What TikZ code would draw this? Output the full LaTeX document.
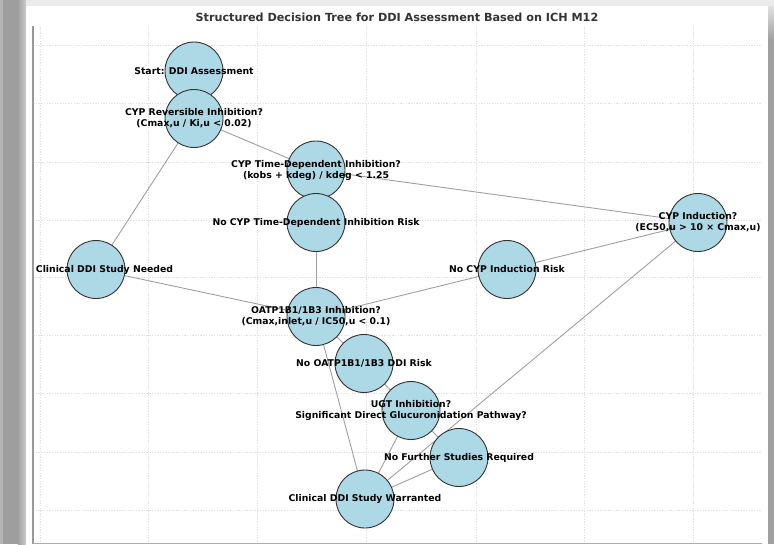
\documentclass[tikz,border=0pt]{standalone}
\usepackage{fontspec}
\setmainfont{DejaVu Sans}
\definecolor{nodefill}{HTML}{ADD8E6}
\definecolor{nodeline}{HTML}{333333}
\definecolor{edgec}{HTML}{A0A0A0}
\definecolor{gridc}{HTML}{E2E2E2}
\definecolor{axisc}{HTML}{999999}
\definecolor{titlec}{HTML}{333333}
\pgfdeclarelayer{bg}
\pgfdeclarelayer{edges}
\pgfsetlayers{bg,edges,main}
\begin{document}
\begin{tikzpicture}[x=1pt,y=-1pt,
  nd/.style={circle,draw=nodeline,fill=nodefill,line width=0.9pt,minimum size=58pt,inner sep=0pt},
  lbl/.style={font=\fontsize{9.3}{11}\selectfont\bfseries,align=center,text=black,inner sep=0pt},
  edge/.style={draw=edgec,line width=0.9pt},
  gridline/.style={draw=gridc,line width=0.7pt,dash pattern=on 1.5pt off 1.2pt}]
\useasboundingbox (0,0) rectangle (774,544);
\begin{pgfonlayer}{bg}
  \fill[white] (0,0) rectangle (774,544);
  \fill[color={rgb,255:red,158;green,158;blue,158}] (0,0) rectangle (26,544);
  \fill[color={rgb,255:red,180;green,180;blue,180}] (0,0) rectangle (3,544);
  \shade[left color={rgb,255:red,160;green,160;blue,160}, right color={rgb,255:red,205;green,205;blue,205}] (18,0) rectangle (26,544);
  \fill[color={rgb,255:red,235;green,235;blue,235}] (26,0) rectangle (774,6);
  \fill[color={rgb,255:red,160;green,160;blue,160}] (768,40) rectangle (774,544);
  \shade[top color={rgb,255:red,225;green,225;blue,225}, bottom color={rgb,255:red,160;green,160;blue,160}] (768,6) rectangle (774,40);
  \foreach \gx in {40,148,257,366,476,584,693}
    \draw[gridline] (\gx,27) -- (\gx,543);
  \foreach \gy in {45,103,162,220,277,335,393,452,510}
    \draw[gridline] (33,\gy) -- (762,\gy);
  \draw[axisc,line width=1.8pt] (32.8,26) -- (32.8,544);
  \draw[axisc!80,line width=0.8pt] (33,543.5) -- (762,543.5);
\end{pgfonlayer}
\node (title) at (397,17) {\fontsize{11.2}{13}\selectfont\bfseries\color{titlec}Structured Decision Tree for DDI Assessment Based on ICH M12};
% circles
\node[nd] (start) at (194,71) {};
\node[nd] (rev) at (194,118.5) {};
\node[nd] (tdi) at (316,170) {};
\node[nd] (notdi) at (316,222.5) {};
\node[nd] (needed) at (96,269.5) {};
\node[nd] (ind) at (698,222.5) {};
\node[nd] (noind) at (507,269.5) {};
\node[nd] (oatp) at (316,316.5) {};
\node[nd] (nooatp) at (364,363.5) {};
\node[nd] (ugt) at (411,410.5) {};
\node[nd] (nofurther) at (459,457.5) {};
\node[nd] (warr) at (365,499) {};
% edges
\begin{pgfonlayer}{edges}
  \draw[edge] (start.center) -- (rev.center);
  \draw[edge] (rev.center) -- (tdi.center);
  \draw[edge] (rev.center) -- (needed.center);
  \draw[edge] (tdi.center) -- (notdi.center);
  \draw[edge] (tdi.center) -- (ind.center);
  \draw[edge] (notdi.center) -- (oatp.center);
  \draw[edge] (needed.center) -- (oatp.center);
  \draw[edge] (ind.center) -- (noind.center);
  \draw[edge] (ind.center) -- (warr.center);
  \draw[edge] (noind.center) -- (oatp.center);
  \draw[edge] (oatp.center) -- (nooatp.center);
  \draw[edge] (oatp.center) -- (warr.center);
  \draw[edge] (nooatp.center) -- (ugt.center);
  \draw[edge] (ugt.center) -- (nofurther.center);
  \draw[edge] (ugt.center) -- (warr.center);
  \draw[edge] (nofurther.center) -- (warr.center);
\end{pgfonlayer}
% labels
\node[lbl] (tstart) at (start.center) {Start: DDI Assessment};
\node[lbl] (trev) at (rev.center) {CYP Reversible Inhibition?\\(Cmax,u / Ki,u < 0.02)};
\node[lbl] (ttdi) at (tdi.center) {CYP Time-Dependent Inhibition?\\(kobs + kdeg) / kdeg < 1.25};
\node[lbl] (tnotdi) at (notdi.center) {No CYP Time-Dependent Inhibition Risk};
\node[lbl] (tneeded) at ([xshift=8.5pt]needed.center) {Clinical DDI Study Needed};
\node[lbl] (tind) at (ind.center) {CYP Induction?\\(EC50,u > 10 × Cmax,u)};
\node[lbl] (tnoind) at (noind.center) {No CYP Induction Risk};
\node[lbl] (toatp) at (oatp.center) {OATP1B1/1B3 Inhibition?\\(Cmax,inlet,u / IC50,u < 0.1)};
\node[lbl] (tnooatp) at (nooatp.center) {No OATP1B1/1B3 DDI Risk};
\node[lbl] (tugt) at (ugt.center) {UGT Inhibition?\\Significant Direct Glucuronidation Pathway?};
\node[lbl] (tnofurther) at (nofurther.center) {No Further Studies Required};
\node[lbl] (twarr) at (warr.center) {Clinical DDI Study Warranted};
\end{tikzpicture}
\end{document}
